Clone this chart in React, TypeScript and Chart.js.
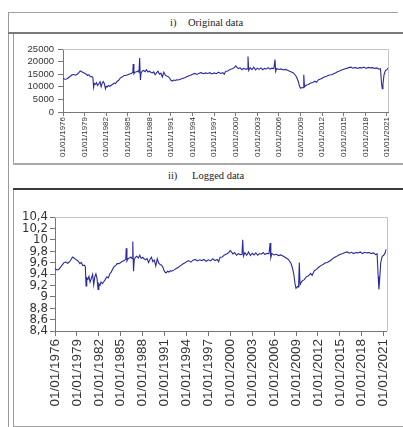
import { useEffect, useRef } from "react";
import { Chart, registerables } from "chart.js";

Chart.register(...registerables);

// Sample times (decimal years) and original-data levels
const sampleYears = [
  1976.0, 1976.25, 1976.5, 1976.75, 1977.0, 1977.25, 1977.5, 1977.75, 1978.0, 1978.2,
  1978.4, 1978.6, 1978.8, 1979.0, 1979.2, 1979.4, 1979.6, 1979.8, 1980.0, 1980.15,
  1980.25, 1980.35, 1980.5, 1980.65, 1980.8, 1981.0, 1981.15, 1981.3, 1981.45, 1981.6,
  1981.75, 1981.9, 1982.0, 1982.15, 1982.3, 1982.5, 1982.7, 1982.9, 1983.1, 1983.3,
  1983.5, 1983.7, 1983.9, 1984.1, 1984.3, 1984.5, 1984.75, 1985.0, 1985.25, 1985.5,
  1985.7, 1985.75, 1985.85, 1986.0, 1986.2, 1986.4, 1986.55, 1986.65, 1986.75, 1986.85,
  1987.0, 1987.2, 1987.4, 1987.6, 1987.8, 1988.0, 1988.2, 1988.4, 1988.6, 1988.8,
  1989.0, 1989.2, 1989.4, 1989.6, 1989.8, 1990.0, 1990.2, 1990.4, 1990.6, 1990.8,
  1991.0, 1991.2, 1991.4, 1991.6, 1991.8, 1992.0, 1992.3, 1992.6, 1992.9, 1993.2,
  1993.5, 1993.8, 1994.0, 1994.3, 1994.6, 1994.9, 1995.2, 1995.5, 1995.8, 1996.1,
  1996.4, 1996.7, 1997.0, 1997.3, 1997.6, 1997.9, 1998.2, 1998.4, 1998.6, 1998.9,
  1999.2, 1999.5, 1999.8, 2000.0, 2000.15, 2000.35, 2000.6, 2000.85, 2001.1, 2001.35,
  2001.6, 2001.7, 2001.8, 2002.0, 2002.25, 2002.5, 2002.75, 2003.0, 2003.25, 2003.5,
  2003.75, 2004.0, 2004.25, 2004.5, 2004.75, 2005.0, 2005.3, 2005.45, 2005.55, 2005.7,
  2006.0, 2006.3, 2006.6, 2006.9, 2007.2, 2007.5, 2007.8, 2008.0, 2008.3, 2008.5,
  2008.7, 2008.85, 2009.0, 2009.2, 2009.35, 2009.45, 2009.55, 2009.7, 2009.9, 2010.1,
  2010.4, 2010.7, 2011.0, 2011.2, 2011.5, 2011.8, 2012.1, 2012.4, 2012.7, 2013.0,
  2013.3, 2013.6, 2013.9, 2014.2, 2014.5, 2014.8, 2015.1, 2015.4, 2015.7, 2016.0,
  2016.3, 2016.6, 2016.9, 2017.2, 2017.5, 2017.8, 2018.1, 2018.4, 2018.7, 2019.0,
  2019.3, 2019.6, 2019.9, 2020.1, 2020.25, 2020.35, 2020.45, 2020.6, 2020.8, 2021.0,
  2021.2, 2021.35,
];

const levels = [
  13300, 13000, 13100, 13600, 14200, 14800, 14900, 14600, 15000, 15600,
  16300, 16000, 15700, 15400, 15100, 14500, 14800, 14000, 14100, 13800,
  9800, 11300, 11000, 11600, 10500, 11300, 12000, 10000, 11500, 12100,
  11200, 9200, 10200, 9900, 10500, 10200, 10600, 11000, 11500, 11300,
  12100, 12500, 13200, 13800, 14000, 14500, 14500, 14800, 15100, 15300,
  15800, 19000, 15200, 15800, 16000, 16300, 15800, 21400, 12700, 15500,
  16200, 16500, 16000, 16800, 15900, 16200, 15800, 15500, 15900, 14800,
  15600, 16200, 15000, 15400, 13900, 15800, 14600, 14300, 14100, 13500,
  12600, 12300, 12700, 12500, 12800, 12700, 13000, 13300, 13600, 14000,
  14400, 14700, 15000, 15300, 14900, 15400, 15600, 15200, 15500, 15300,
  15600, 15100, 15500, 15200, 15800, 15300, 15600, 15000, 16200, 16300,
  16900, 17200, 17600, 18300, 17800, 17200, 17600, 16800, 17300, 17000,
  17100, 22000, 16500, 17600, 16800, 17800, 16700, 17400, 16900, 17500,
  16800, 17300, 17100, 17600, 17000, 17400, 17200, 20800, 16100, 17300,
  16900, 17100, 16700, 16900, 16600, 16200, 15800, 15500, 14600, 13500,
  12000, 10300, 9400, 9700, 9600, 14800, 10000, 10400, 10800, 10900,
  11500, 11700, 12200, 11800, 12800, 13100, 13600, 14000, 14300, 14700,
  14800, 15200, 15600, 16100, 16400, 16800, 17100, 17300, 17600, 17800,
  17400, 17700, 17300, 17600, 17500, 17800, 17300, 17700, 17500, 17600,
  17300, 17500, 17000, 17200, 11500, 9200, 11000, 14800, 16500, 16800,
  17500, 18700,
];

const xTickYears = [1976, 1979, 1982, 1985, 1988, 1991, 1994, 1997, 2000, 2003, 2006, 2009, 2012, 2015, 2018, 2021];
const xTickLabels = xTickYears.map((y) => "01/01/" + y);

const levelTicks = [0, 5000, 10000, 15000, 20000, 25000];
const levelTickLabels = ["0", "5000", "10000", "15000", "20000", "25000"];

const logTicks = [8.4, 8.6, 8.8, 9.0, 9.2, 9.4, 9.6, 9.8, 10.0, 10.2, 10.4];
const logTickLabels = ["8,4", "8,6", "8,8", "9", "9,2", "9,4", "9,6", "9,8", "10", "10,2", "10,4"];

const LINE_COLOR = "#2a2a9e";

const framePlugin = {
  id: "frame",
  afterDraw(chart: any) {
    const { ctx, chartArea: a } = chart;
    ctx.save();
    ctx.strokeStyle = "#c4c4c4";
    ctx.lineWidth = 1;
    ctx.beginPath();
    ctx.moveTo(a.left, Math.round(a.top) + 0.5);
    ctx.lineTo(Math.round(a.right) + 0.5, Math.round(a.top) + 0.5);
    ctx.lineTo(Math.round(a.right) + 0.5, a.bottom);
    ctx.stroke();
    ctx.restore();
  },
};

type PanelProps = {
  left: number;
  top: number;
  width: number;
  height: number;
  values: number[];
  xMax: number;
  yTicks: number[];
  yLabels: string[];
  yAxisWidth: number;
  xAxisHeight: number;
  padTop: number;
  padRight: number;
  yFont: any;
  xFont: any;
  yPad: number;
  xPad: number;
  tickLen: number;
};

function Panel(p: PanelProps) {
  const ref = useRef<HTMLCanvasElement | null>(null);
  useEffect(() => {
    if (!ref.current) return;
    const data = sampleYears.map((x, i) => ({ x, y: p.values[i] }));
    const chart = new Chart(ref.current, {
      type: "line",
      data: {
        datasets: [
          {
            data,
            borderColor: LINE_COLOR,
            borderWidth: 1.1,
            pointRadius: 0,
            tension: 0,
            fill: false,
          },
        ],
      },
      options: {
        responsive: false,
        animation: false,
        devicePixelRatio: 1,
        layout: { padding: { left: 0, top: p.padTop, right: p.padRight, bottom: 0 } },
        plugins: { legend: { display: false }, tooltip: { enabled: false } },
        scales: {
          x: {
            type: "linear",
            min: 1976,
            max: p.xMax,
            afterBuildTicks: (s: any) => {
              s.ticks = xTickYears.map((v) => ({ value: v }));
            },
            afterFit: (s: any) => {
              s.height = p.xAxisHeight;
            },
            ticks: {
              autoSkip: false,
              minRotation: 90,
              maxRotation: 90,
              padding: p.xPad,
              color: "#333",
              font: p.xFont,
              callback: (_v: any, i: number) => xTickLabels[i],
            },
            grid: { display: true, drawOnChartArea: false, drawTicks: true, tickLength: p.tickLen, color: "#777" },
            border: { display: true, color: "#777" },
          },
          y: {
            type: "linear",
            min: p.yTicks[0],
            max: p.yTicks[p.yTicks.length - 1],
            afterBuildTicks: (s: any) => {
              s.ticks = p.yTicks.map((v) => ({ value: v }));
            },
            afterFit: (s: any) => {
              s.width = p.yAxisWidth;
            },
            ticks: {
              autoSkip: false,
              padding: p.yPad,
              color: "#333",
              font: p.yFont,
              callback: (_v: any, i: number) => p.yLabels[i],
            },
            grid: { display: true, drawOnChartArea: false, drawTicks: true, tickLength: 5, color: "#777" },
            border: { display: true, color: "#777" },
          },
        },
      },
      plugins: [framePlugin],
    });
    return () => chart.destroy();
  }, []);
  return (
    <canvas
      ref={ref}
      width={p.width}
      height={p.height}
      style={{ position: "absolute", left: p.left, top: p.top, width: p.width, height: p.height }}
    />
  );
}

function Line(props: { l: number; t: number; w: number; h: number; c: string }) {
  return (
    <div
      style={{
        position: "absolute",
        left: props.l,
        top: props.t,
        width: props.w,
        height: props.h,
        background: props.c,
      }}
    />
  );
}

const serif = "'Liberation Serif', 'Times New Roman', serif";

export default function App() {
  const logValues = levels.map((v) => Math.log(v));
  return (
    <div
      style={{
        position: "fixed",
        left: 0,
        top: 0,
        width: 403,
        height: 427,
        background: "#fff",
        overflow: "hidden",
      }}
    >
      {/* table borders */}
      <Line l={8} t={12} w={1} h={415} c="#9a9a9a" />
      <Line l={8} t={12} w={390} h={1} c="#a0a0a0" />
      <Line l={8} t={32} w={395} h={2} c="#7a7a7a" />
      <Line l={13} t={34} w={1} h={130} c="#9a9a9a" />
      <Line l={13} t={163} w={390} h={2} c="#a8a8a8" />
      <Line l={13} t={188} w={390} h={2} c="#3a3a3a" />
      <Line l={13} t={190} w={1} h={237} c="#9a9a9a" />
      <Line l={13} t={426} w={390} h={1} c="#a0a0a0" />

      {/* titles */}
      <div style={{ position: "absolute", left: 170, top: 16, fontFamily: serif, fontSize: 10.5, lineHeight: "14px", color: "#222" }}>
        i)
      </div>
      <div style={{ position: "absolute", left: 188, top: 16, fontFamily: serif, fontSize: 10.5, lineHeight: "14px", color: "#222" }}>
        Original data
      </div>
      <div style={{ position: "absolute", left: 168, top: 169, fontFamily: serif, fontSize: 10.5, lineHeight: "14px", color: "#222" }}>
        ii)
      </div>
      <div style={{ position: "absolute", left: 192, top: 169, fontFamily: serif, fontSize: 10.5, lineHeight: "14px", color: "#222" }}>
        Logged data
      </div>

      <Panel
        left={14}
        top={34}
        width={389}
        height={129}
        values={levels}
        xMax={2021.15}
        yTicks={levelTicks}
        yLabels={levelTickLabels}
        yAxisWidth={49}
        xAxisHeight={51}
        padTop={15}
        padRight={15}
        yFont={{ family: "'Liberation Sans', Arial, sans-serif", size: 9.5 }}
        xFont={{ family: "'Liberation Sans', Arial, sans-serif", size: 8 }}
        yPad={4}
        xPad={1}
        tickLen={4}
      />
      <Panel
        left={14}
        top={190}
        width={389}
        height={236}
        values={logValues}
        xMax={2021.4}
        yTicks={logTicks}
        yLabels={logTickLabels}
        yAxisWidth={41}
        xAxisHeight={95}
        padTop={27}
        padRight={15}
        yFont={{ family: "'Liberation Sans Narrow', 'Arial Narrow', 'DejaVu Sans Condensed', 'Liberation Sans', sans-serif", size: 13 }}
        xFont={{ family: "'Liberation Sans', Arial, sans-serif", size: 13.5 }}
        yPad={2}
        xPad={3}
        tickLen={5}
      />
    </div>
  );
}
